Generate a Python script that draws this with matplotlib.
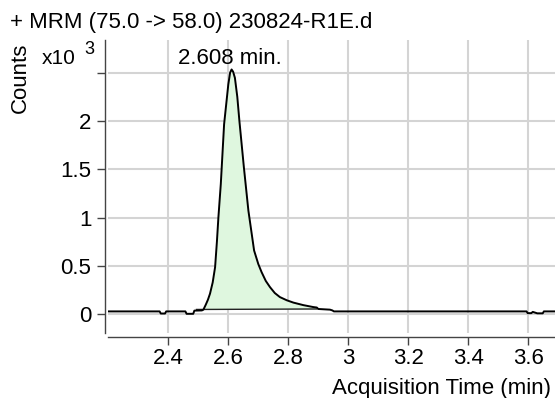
import numpy as np
import matplotlib
matplotlib.use("Agg")
import matplotlib.pyplot as plt

# Chromatogram trace (time in min, intensity in x10^3 counts)
times = [2.200, 2.371, 2.375, 2.389, 2.393, 2.457, 2.461, 2.483, 2.487, 2.512,
         2.517, 2.525, 2.532, 2.539, 2.548, 2.556, 2.562, 2.567, 2.575, 2.586,
         2.600, 2.606, 2.611, 2.616, 2.622, 2.630, 2.637, 2.652, 2.667, 2.686,
         2.700, 2.711, 2.725, 2.739, 2.755, 2.772, 2.795, 2.817, 2.850, 2.883,
         2.895, 2.900, 2.939, 2.947, 2.952, 3.594, 3.598, 3.610, 3.615, 3.630,
         3.648, 3.652, 3.690]
values = [0.030, 0.030, 0.008, 0.008, 0.030, 0.030, 0.005, 0.005, 0.038, 0.040,
          0.048, 0.100, 0.150, 0.213, 0.330, 0.488, 0.750, 1.003, 1.347, 1.966,
          2.378, 2.500, 2.533, 2.510, 2.447, 2.250, 2.000, 1.519, 1.072, 0.660,
          0.520, 0.436, 0.345, 0.281, 0.220, 0.178, 0.145, 0.121, 0.095, 0.075,
          0.070, 0.055, 0.048, 0.040, 0.030, 0.030, 0.012, 0.012, 0.025, 0.010,
          0.010, 0.030, 0.030]

# Integration baseline (start/end time and level)
integ_t = [2.494, 2.895]
integ_v = [0.050, 0.055]

peak_label = "2.608 min."
peak_time = 2.608
title = "+ MRM (75.0 -> 58.0) 230824-R1E.d"
xticks = [2.4, 2.6, 2.8, 3.0, 3.2, 3.4, 3.6]
xticklabels = ["2.4", "2.6", "2.8", "3", "3.2", "3.4", "3.6"]
yticks = [0, 0.5, 1, 1.5, 2, 2.5]
yticklabels = ["0", "0.5", "1", "1.5", "2", ""]

plt.rcParams['font.family'] = ['Liberation Sans', 'DejaVu Sans']

W, H = 555, 398
fig = plt.figure(figsize=(W / 100, H / 100), dpi=100)
L, R, B, T = 108, 555, 333, 40
ax = fig.add_axes([L / W, 1 - B / H, (R - L) / W, (B - T) / H])

t = np.array(times)
v = np.array(values)

# fill between trace and integration baseline
mask = (t >= integ_t[0]) & (t <= integ_t[1])
ft = np.concatenate([[integ_t[0]], t[mask], [integ_t[1]]])
fv = np.interp(ft, t, v)
fb = np.interp(ft, integ_t, integ_v)
fv = np.maximum(fv, fb)
ax.fill_between(ft, fb, fv, color='#dff7df', linewidth=0, zorder=2)
ax.plot(integ_t, integ_v, color='#222222', lw=1.0, zorder=3)

ax.plot(t, v, color='black', lw=1.4, zorder=4)

ax.set_xlim(2.199, 3.689)
ax.set_ylim(-0.1935, 2.838)

ax.set_xticks(xticks)
ax.set_xticklabels(xticklabels)
ax.set_yticks(yticks)
ax.set_yticklabels(yticklabels)
ax.grid(True, color='#d4d4d4', lw=1.5, zorder=0)
ax.set_axisbelow(True)

for s in ['top', 'right']:
    ax.spines[s].set_visible(False)
ax.spines['left'].set_position(('outward', 2))
ax.spines['bottom'].set_position(('outward', 3))
for s in ['left', 'bottom']:
    ax.spines[s].set_color('#444444')
    ax.spines[s].set_linewidth(1.0)

ax.tick_params(axis='x', labelsize=16, colors='#444444', labelcolor='black',
               length=5.5, width=1.0, pad=2.5)
ax.tick_params(axis='y', labelsize=16, colors='#444444', labelcolor='black',
               length=5.5, width=1.0, pad=4.5)

fig.text(10 / W, 1 - 28 / H, title, fontsize=16, ha='left', va='baseline')
fig.text(20.5 / W, 1 - 77.5 / H, "Counts", fontsize=16, rotation=90, ha='center', va='center')
fig.text(42 / W, 1 - 63.5 / H, "x10", fontsize=15, ha='left', va='baseline')
fig.text(84 / W, 1 - 53.5 / H, "3", fontsize=13, ha='left', va='baseline')
fig.text(230 / W, 1 - 64 / H, peak_label, fontsize=16, ha='center', va='baseline', zorder=5)
fig.text(551 / W, 1 - 394 / H, "Acquisition Time (min)", fontsize=16, ha='right', va='baseline')

fig.savefig("out.png", dpi=100)
